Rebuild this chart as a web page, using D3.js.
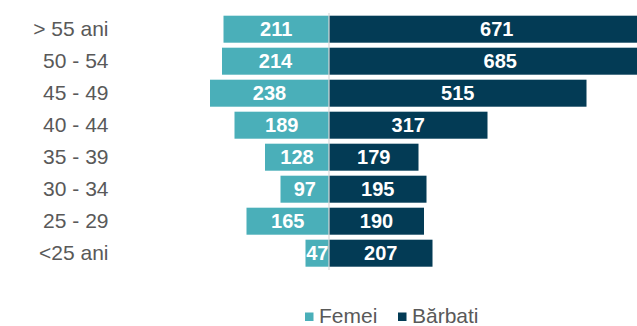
<!DOCTYPE html>
<html>
<head>
<meta charset="utf-8">
<script src="https://cdn.jsdelivr.net/npm/d3@7"></script>
<style>
  html, body { margin: 0; padding: 0; background: #fff; }
  svg { display: block; font-family: "Liberation Sans", Arial, sans-serif; }
</style>
</head>
<body>
<svg id="chart" width="637" height="326"></svg>
<script>
// Age groups, top to bottom
const ageGroups = ["> 55 ani", "50 - 54", "45 - 49", "40 - 44", "35 - 39", "30 - 34", "25 - 29", "<25 ani"];
const femei   = [211, 214, 238, 189, 128, 97, 165, 47];
const barbati = [671, 685, 515, 317, 179, 195, 190, 207];
const seriesNames = ["Femei", "Bărbati"];

const colFemei = "#4aafb9";
const colBarbati = "#033b55";
const textGray = "#595959";

const svg = d3.select("#chart");
const centerX = 329;

// Shared value scale: half the scale extends left (women), half right (men)
const xRight = d3.scaleLinear().domain([0, 700]).range([centerX, centerX + 350]);
const xLeft  = d3.scaleLinear().domain([0, 700]).range([centerX, centerX - 350]);

const y = d3.scaleBand()
  .domain(ageGroups)
  .range([13.2, 269.2])
  .paddingInner(0.156)
  .paddingOuter(0.078);

const rows = ageGroups.map((g, i) => ({ g, f: femei[i], b: barbati[i] }));

// Women bars (left)
svg.append("g").selectAll("rect")
  .data(rows).join("rect")
  .attr("x", d => xLeft(d.f))
  .attr("y", d => y(d.g))
  .attr("width", d => xLeft(0) - xLeft(d.f))
  .attr("height", y.bandwidth())
  .attr("fill", colFemei);

// Men bars (right)
svg.append("g").selectAll("rect")
  .data(rows).join("rect")
  .attr("x", xRight(0))
  .attr("y", d => y(d.g))
  .attr("width", d => xRight(d.b) - xRight(0))
  .attr("height", y.bandwidth())
  .attr("fill", colBarbati);

// Center axis line
svg.append("line")
  .attr("x1", centerX).attr("x2", centerX)
  .attr("y1", 13).attr("y2", 270)
  .attr("stroke", "#d9d9d9").attr("stroke-width", 1.2);

// Value labels
const labelStyle = sel => sel
  .attr("text-anchor", "middle")
  .attr("fill", "#fff")
  .attr("font-weight", "bold")
  .attr("font-size", "20px");

svg.append("g").selectAll("text")
  .data(rows).join("text")
  .call(labelStyle)
  .attr("x", d => (xLeft(d.f) + xLeft(0)) / 2)
  .attr("y", d => y(d.g) + y.bandwidth() / 2 + 7)
  .text(d => d.f);

svg.append("g").selectAll("text")
  .data(rows).join("text")
  .call(labelStyle)
  .attr("x", d => (xRight(d.b) + xRight(0)) / 2)
  .attr("y", d => y(d.g) + y.bandwidth() / 2 + 7)
  .text(d => d.b);

// Category axis labels
svg.append("g").selectAll("text")
  .data(ageGroups).join("text")
  .attr("x", 108.5)
  .attr("y", d => y(d) + y.bandwidth() / 2 + 7)
  .attr("text-anchor", "end")
  .attr("fill", textGray)
  .attr("font-size", "21px")
  .text(d => d);

// Legend
const legend = svg.append("g");
const legendItems = [
  { name: seriesNames[0], color: colFemei, x: 305 },
  { name: seriesNames[1], color: colBarbati, x: 398 }
];
legendItems.forEach(it => {
  legend.append("rect")
    .attr("x", it.x).attr("y", 312.5)
    .attr("width", 8.5).attr("height", 8.5)
    .attr("fill", it.color);
  legend.append("text")
    .attr("x", it.x + 14).attr("y", 322.5)
    .attr("fill", textGray)
    .attr("font-size", "21px")
    .text(it.name);
});
</script>
</body>
</html>
